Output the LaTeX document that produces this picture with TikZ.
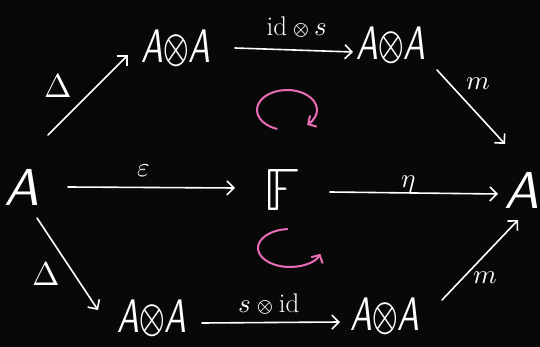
\documentclass[tikz,border=0pt]{standalone}
\usepackage{unicode-math}
\setmathfont{Latin Modern Math}
\usetikzlibrary{arrows.meta}
\definecolor{bgc}{RGB}{8,8,8}
\definecolor{pinkc}{RGB}{234,108,180}
\newcommand{\tp}{\mathbin{\scalebox{0.75}{$\otimes$}}}
\newcommand{\AtA}{\scalebox{0.7}[1]{$\symsfit{A}{\otimes}\symsfit{A}$}}
\begin{document}
\begin{tikzpicture}[x=1pt,y=-1pt,
  obj/.style={text=white,inner sep=0pt,font=\fontsize{52}{54}\selectfont},
  pair/.style={text=white,inner sep=0pt,font=\fontsize{47}{49}\selectfont},
  lab/.style={text=white,inner sep=0pt,font=\fontsize{27}{29}\selectfont},
  tri/.style={text=white,inner sep=0pt,font=\fontsize{33}{35}\selectfont},
  arr/.style={draw=white,line width=1.6pt,line cap=round,-{Straight Barb[length=7pt,width=14pt,line width=1.6pt]}},
  loop/.style={draw=pinkc,line width=2pt,line cap=round,-{Straight Barb[length=6pt,width=13pt,line width=2pt]}}]
\fill[bgc] (0,0) rectangle (540,347);
\useasboundingbox (0,0) rectangle (540,347);
% objects
\node[obj] (A)  at (22,187)  {$\symsfit{A}$};
\node[pair] (TL) at (176,48)  {\AtA};
\node[pair] (TR) at (391,45)  {\AtA};
\node[obj,font=\fontsize{60}{62}\selectfont] (F)  at (282,190) {$\mathbb{F}$};
\node[obj] (R)  at (522,190) {$\symsfit{A}$};
\node[pair] (BL) at (152,318) {\AtA};
\node[pair] (BR) at (385,316) {\AtA};
% arrows
\draw[arr] ([shift={(26,-52)}]A.center) -- ([shift={(-48,7)}]TL.center);
\draw[arr] ([shift={(59,0)}]TL.center) -- ([shift={(-38,7)}]TR.center);
\draw[arr] ([shift={(46,25)}]TR.center) -- ([shift={(-17,-46)}]R.center);
\draw[arr] ([shift={(46,0)}]A.center) -- ([shift={(-47,-2)}]F.center);
\draw[arr] ([shift={(48,2)}]F.center) -- ([shift={(-24,4)}]R.center);
\draw[arr] ([shift={(15,31)}]A.center) -- ([shift={(-54,-8)}]BL.center);
\draw[arr] ([shift={(50,5)}]BL.center) -- ([shift={(-45,6)}]BR.center);
\draw[arr] ([shift={(57,-16)}]BR.center) -- ([shift={(-4,30)}]R.center);
% labels
\node[tri] (lD1) at (58,86)   {$\Delta$};
\node[tri] (lD2) at (46,274)  {$\Delta$};
\node[lab] (lE)  at (144,171) {$\varepsilon$};
\node[lab] (lH)  at (409,184) {$\eta$};
\node[lab] (lT)  at (297,27)  {$\mathrm{id}\tp s$};
\node[lab] (lB)  at (269,304) {$s\tp\mathrm{id}$};
\node[lab] (lM1) at (478,84)  {$m$};
\node[lab] (lM2) at (485,278) {$m$};
% commutation loops
\coordinate (c1) at (287,110);
\coordinate (c2) at (290,248);
\draw[loop] ([shift={(110:30 and 20)}]c1) arc[start angle=110,end angle=408,x radius=30,y radius=20];
\draw[loop] ([shift={(265:32 and 19)}]c2) arc[start angle=265,end angle=18,x radius=32,y radius=19];
\end{tikzpicture}
\end{document}
